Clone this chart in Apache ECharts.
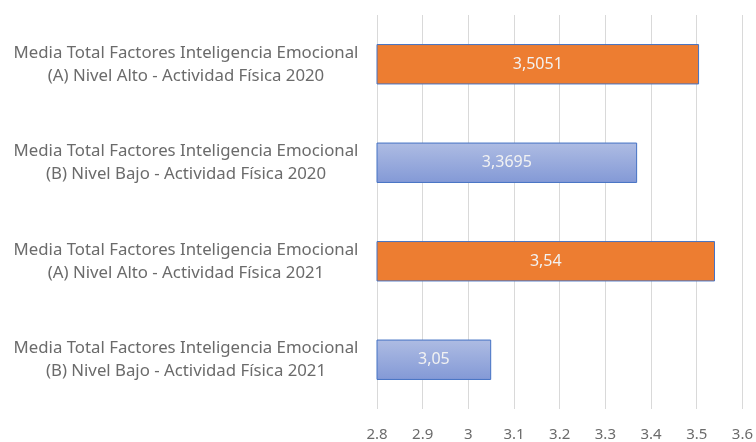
<!DOCTYPE html>
<html>
<head>
<meta charset="utf-8">
<script src="https://cdn.jsdelivr.net/npm/echarts@6/dist/echarts.min.js"></script>
<style>
  html, body { margin: 0; padding: 0; background: #fff; }
  #chart { width: 756px; height: 442px; }
</style>
</head>
<body>
<div id="chart"></div>
<script>
// categories, top to bottom
const categories = [
  'Media Total Factores Inteligencia Emocional\n(A) Nivel Alto - Actividad Física 2020',
  'Media Total Factores Inteligencia Emocional\n(B) Nivel Bajo - Actividad Física 2020',
  'Media Total Factores Inteligencia Emocional\n(A) Nivel Alto - Actividad Física 2021',
  'Media Total Factores Inteligencia Emocional\n(B) Nivel Bajo - Actividad Física 2021'
];
const values = [3.5051, 3.3695, 3.54, 3.05];
const groups = ['A', 'B', 'A', 'B'];

const orange = '#ED7D31';
const blueGrad = new echarts.graphic.LinearGradient(0, 0, 0, 1, [
  { offset: 0, color: '#aebce3' },
  { offset: 1, color: '#8399d6' }
]);

const chart = echarts.init(document.getElementById('chart'));
chart.setOption({
  animation: false,
  textStyle: { fontFamily: 'Noto Sans' },
  grid: { left: 377, right: 11, top: 15, bottom: 33, containLabel: false },
  xAxis: {
    type: 'value',
    min: 2.8,
    max: 3.6,
    interval: 0.1,
    axisLine: { show: false },
    axisTick: { show: false },
    splitLine: { lineStyle: { color: '#d9d9d9', width: 1 } },
    axisLabel: {
      color: '#6b6b6b',
      fontSize: 15,
      margin: 18,
      formatter: v => String(Math.round(v * 10) / 10)
    }
  },
  yAxis: {
    type: 'category',
    inverse: true,
    data: categories,
    axisLine: { show: false },
    axisTick: { show: false },
    axisLabel: {
      color: '#6b6b6b',
      fontSize: 16.8,
      lineHeight: 23,
      align: 'center',
      margin: 191
    }
  },
  series: [{
    type: 'bar',
    barWidth: '41%',
    data: values.map((v, i) => ({
      value: v,
      itemStyle: {
        color: groups[i] === 'A' ? orange : blueGrad,
        borderColor: '#4472C4',
        borderWidth: 1
      }
    })),
    label: {
      show: true,
      position: 'inside',
      color: '#f2f2f2',
      fontSize: 16,
      formatter: p => String(p.value).replace('.', ',')
    }
  }]
});
</script>
</body>
</html>
